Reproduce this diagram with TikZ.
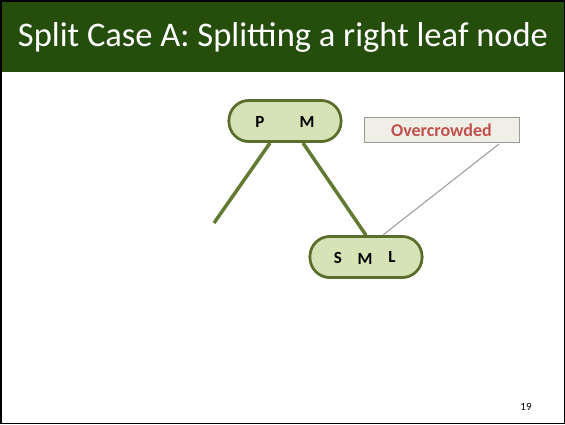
\documentclass[tikz,border=0pt]{standalone}
\usepackage{fontspec}
\setmainfont{Carlito}
\begin{document}
\begin{tikzpicture}[x=1pt,y=-1pt,
  pill/.style={draw=olivedge,line width=2.6pt,fill=nodefill,rounded corners=20pt,minimum width=112pt,minimum height=41pt,inner sep=0pt},
  branch/.style={draw=branchcol,line width=3.5pt},
  keytext/.style={font=\bfseries\fontsize{17}{19}\selectfont,inner sep=0pt}]
\definecolor{hdr}{HTML}{254D0C}
\definecolor{olivedge}{HTML}{5A6E2C}
\definecolor{nodefill}{HTML}{D5E3B6}
\definecolor{branchcol}{HTML}{637A32}
\definecolor{callred}{HTML}{C0504D}
\definecolor{callfill}{HTML}{EFEFE8}
\useasboundingbox (0,0) rectangle (565,424);
\fill[white] (0,0) rectangle (565,424);
\fill[hdr] (0,0) rectangle (565,72);
\draw[black,line width=1.5pt] (0.75,0.75) rectangle (564.25,423.25);
\node[text=white,font=\fontsize{34.5}{40}\selectfont,anchor=center] (title) at (283,37) {Split Case A: Splitting a right leaf node};
% branches
\coordinate (lend) at (214,223);
\node[pill] (top) at (285,121) {};
\node[pill] (leaf) at (366,257) {};
\draw[branch] (270,143) -- (lend);
\draw[branch] (303,143) -- (leaf.north);
\node[pill] (top2) at (285,121) {};
\node[keytext] (p) at (260,122) {P};
\node[keytext] (m1) at (307,122) {M};
\node[pill] (leaf2) at (366,257) {};
\node[keytext] (s) at (338,258) {S};
\node[keytext] (m2) at (365,259) {M};
\node[keytext] (l) at (392,257) {L};
% callout
\node[draw=gray!80,line width=1pt,fill=callfill,minimum width=155pt,minimum height=25pt,inner sep=0pt,text=callred,font=\bfseries\fontsize{18}{20}\selectfont] (call) at (441.5,130) {Overcrowded};
\draw[gray!80,line width=1pt] (499,144) -- (383,235);
\node[font=\fontsize{11}{13}\selectfont] (pg) at (526,407) {19};
\end{tikzpicture}
\end{document}
